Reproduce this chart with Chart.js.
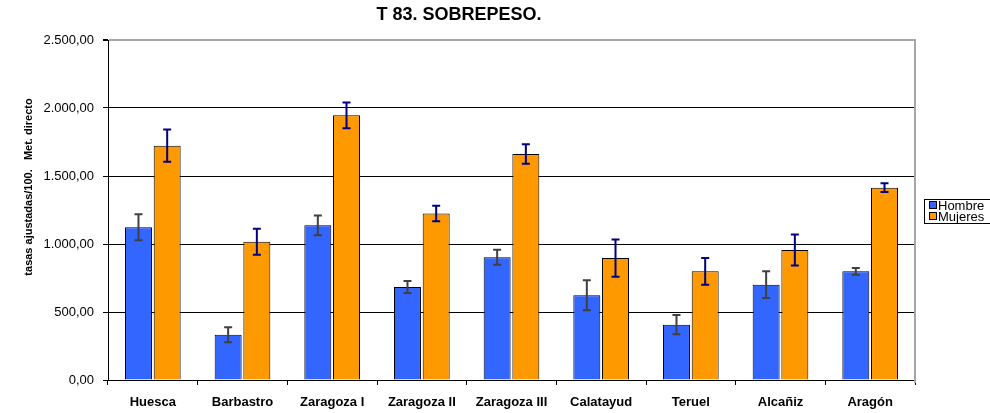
<!DOCTYPE html>
<html>
<head>
<meta charset="utf-8">
<script src="https://cdn.jsdelivr.net/npm/chart.js@4"></script>
<style>
html, body { margin: 0; padding: 0; background: #fff; }
</style>
</head>
<body>
<canvas id="sobrepesoChart" width="990" height="413"></canvas>
<script>
var categories = ['Huesca', 'Barbastro', 'Zaragoza I', 'Zaragoza II', 'Zaragoza III', 'Calatayud', 'Teruel', 'Alcañiz', 'Aragón'];
var hombres = [1123, 333, 1137, 684, 902, 623, 407, 701, 799];
var hombresErr = [95, 55, 73, 44, 55, 110, 71, 98, 25];
var mujeres = [1723, 1017, 1946, 1225, 1662, 897, 799, 956, 1414];
var mujeresErr = [118, 96, 95, 57, 72, 137, 98, 114, 32];
var yTicks = [0, 500, 1000, 1500, 2000, 2500];

var FONT = '"Liberation Sans", Arial, sans-serif';

function fmt(v) {
    var parts = Number(v).toFixed(2).split('.');
    return parts[0].replace(/\B(?=(\d{3})+(?!\d))/g, '.') + ',' + parts[1];
}

// error bars, drawn from the arrays through the y scale
var errorBars = {
    id: 'errorBars',
    afterDatasetsDraw: function (chart) {
        var ctx = chart.ctx;
        var y = chart.scales.y;
        chart.data.datasets.forEach(function (ds, i) {
            var meta = chart.getDatasetMeta(i);
            ctx.save();
            ctx.strokeStyle = ds.errorColor;
            ctx.lineWidth = 2;
            meta.data.forEach(function (bar, j) {
                var v = ds.data[j], e = ds.errors[j];
                var top = y.getPixelForValue(v + e), bot = y.getPixelForValue(v - e);
                ctx.beginPath();
                ctx.moveTo(bar.x, top); ctx.lineTo(bar.x, bot);
                ctx.moveTo(bar.x - 4, top); ctx.lineTo(bar.x + 4, top);
                ctx.moveTo(bar.x - 4, bot); ctx.lineTo(bar.x + 4, bot);
                ctx.stroke();
            });
            ctx.restore();
        });
    }
};

var decorations = {
    id: 'decorations',
    afterDraw: function (chart) {
        var ctx = chart.ctx;
        var a = chart.chartArea;
        ctx.save();
        // right border of plot area
        ctx.strokeStyle = '#a6a6a6';
        ctx.lineWidth = 2;
        ctx.beginPath();
        ctx.moveTo(a.right, a.top - 1);
        ctx.lineTo(a.right, a.bottom + 3);
        ctx.stroke();

        // title
        ctx.fillStyle = '#000';
        ctx.font = 'bold 18px ' + FONT;
        ctx.textAlign = 'center';
        ctx.textBaseline = 'middle';
        ctx.fillText('T 83. SOBREPESO.', 459, 15);

        // y axis title
        ctx.save();
        ctx.translate(29, 187);
        ctx.rotate(-Math.PI / 2);
        ctx.font = 'bold 11px ' + FONT;
        ctx.fillText('tasas ajustadas/100.   Met. directo', 0, 0);
        ctx.restore();

        // legend
        ctx.strokeStyle = '#000';
        ctx.lineWidth = 1;
        ctx.strokeRect(924.5, 199.5, 80, 24);
        ctx.font = '13px ' + FONT;
        ctx.textAlign = 'left';
        chart.data.datasets.forEach(function (ds, i) {
            var yy = 205 + i * 11;
            ctx.fillStyle = ds.backgroundColor;
            ctx.fillRect(929, yy - 3, 7, 7);
            ctx.strokeRect(929.5, yy - 3.5, 7, 7);
            ctx.fillStyle = '#000';
            ctx.fillText(ds.label, 938, yy + 1);
        });
        ctx.restore();
    }
};

var ctx = document.getElementById('sobrepesoChart').getContext('2d');
var chart = new Chart(ctx, {
    type: 'bar',
    data: {
        labels: categories,
        datasets: [
            {
                label: 'Hombre',
                data: hombres,
                errors: hombresErr,
                errorColor: '#404040',
                backgroundColor: '#3366ff',
                borderColor: '#000',
                borderWidth: 1,
                categoryPercentage: 0.64,
                barPercentage: 0.94
            },
            {
                label: 'Mujeres',
                data: mujeres,
                errors: mujeresErr,
                errorColor: '#000080',
                backgroundColor: '#ff9900',
                borderColor: '#000',
                borderWidth: 1,
                categoryPercentage: 0.64,
                barPercentage: 0.94
            }
        ]
    },
    options: {
        responsive: false,
        animation: false,
        layout: { padding: { left: 0, top: 40, right: 75, bottom: 0 } },
        plugins: {
            legend: { display: false },
            title: { display: false },
            tooltip: { enabled: false }
        },
        scales: {
            x: {
                grid: { drawOnChartArea: false, color: '#000', tickLength: 5, offset: true },
                border: { color: '#000', width: 1 },
                ticks: {
                    color: '#000',
                    font: { family: FONT, size: 13, weight: 'bold' },
                    padding: 10,
                    maxRotation: 0,
                    autoSkip: false
                },
                afterFit: function (s) { s.height = 33; }
            },
            y: {
                min: 0,
                max: 2500,
                afterBuildTicks: function (s) {
                    s.ticks = yTicks.map(function (v) { return { value: v }; });
                },
                grid: {
                    color: function (c) { return c.tick && c.tick.value === 2500 ? '#a6a6a6' : '#000'; },
                    lineWidth: function (c) { return c.tick && c.tick.value === 2500 ? 2 : 1; },
                    tickColor: '#000',
                    tickLength: 5
                },
                border: { color: '#000', width: 1 },
                ticks: {
                    color: '#000',
                    font: { family: FONT, size: 13 },
                    padding: 9,
                    callback: function (v) { return fmt(v); }
                },
                afterFit: function (s) { s.width = 108; }
            }
        }
    },
    plugins: [errorBars, decorations]
});
</script>
</body>
</html>
